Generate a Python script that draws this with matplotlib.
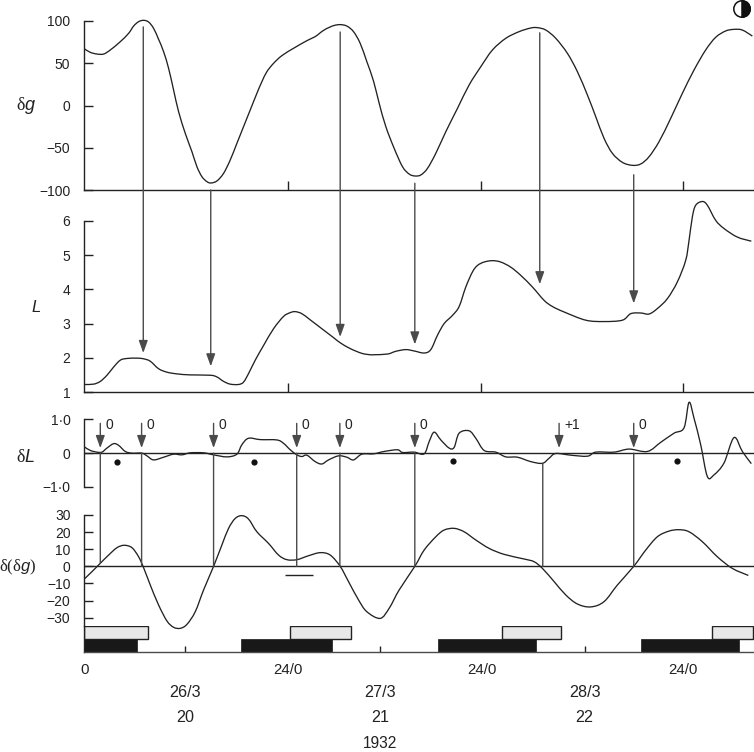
# -*- coding: utf-8 -*-
import matplotlib
matplotlib.use('Agg')
import matplotlib.pyplot as plt
from matplotlib.patches import ConnectionPatch, Wedge, Circle, PathPatch
from matplotlib.path import Path

plt.rcParams['font.family'] = 'Liberation Sans'
plt.rcParams['font.size'] = 10
plt.rcParams['mathtext.fontset'] = 'custom'
plt.rcParams['mathtext.rm'] = 'Liberation Serif'
plt.rcParams['mathtext.it'] = 'Liberation Sans:italic'

# Curves, x in hours from the start of the record
dg_x = [0.04, 0.72, 1.52, 2.32, 3.12, 4.32, 5.32, 5.92, 6.52, 7.12, 7.72, 8.32, 8.92, 9.52, 10.12,
        10.72, 11.32, 12.12, 12.92, 13.52, 14.12, 14.72, 15.2, 15.92, 16.72, 17.52, 18.32, 19.12,
        19.92, 20.72, 21.32, 21.92, 22.72, 23.72, 25.12, 26.72, 27.72, 28.24, 28.92, 29.92, 30.72,
        31.52, 32.32, 33.12, 33.92, 34.72, 35.4, 36.2, 37.2, 38.2, 39, 39.68, 40.4, 41.2, 42.2,
        43.4, 44.8, 46.2, 47.6, 49, 50.6, 52.2, 53.6, 54.4, 55.4, 56.6, 58, 59.2, 60.4, 61.4, 62.4,
        63.4, 64.6, 65.8, 66.8, 67.8, 69, 70.4, 71.8, 73.2, 74.6, 75.8, 77, 78, 79, 80.2]
dg_y = [66.9, 62.9, 60.9, 60.9, 65.7, 75.5, 85.4, 94, 99.2, 100.8, 98.8, 91.3, 78.3, 63.7, 44,
        18.3, -7.3, -32.9, -54.6, -72.4, -84.2, -90.1, -91.7, -89.3, -80.3, -64.5, -44.8, -25,
        -5.3, 14.4, 28.2, 40, 49.9, 59, 67.7, 76.7, 81.5, 85.4, 90.1, 94.5, 95.7,
        94, 87.4, 73.6, 51.9, 29, 2.6, -25, -50.7, -72.4, -81.1, -83.4, -82.2, -74.4, -56.6,
        -31, -3.4, 24.3, 45.9, 65.7, 79.5, 87.4, 91.7, 92.1, 89.3, 79.5, 61.7, 40, 12.4, -13.2, -38.9,
        -56.6, -67.3, -70.8, -69.2, -60.6, -42.8, -15.2, 14.4, 42, 65.7, 80.7, 88.2, 90.1, 89.3, 82.2]

L_x = [0.04, 1.12, 1.92, 2.72, 3.52, 4.32, 5.12, 6.32, 7.12, 7.92, 8.92, 9.92, 11.12, 12.72, 15.12,
       15.92, 16.72, 17.52, 18.52, 19.12, 19.72, 20.52, 21.52, 22.72, 23.92, 24.72, 25.32, 26.12,
       27.12, 28.52, 29.92, 30.72, 31.92, 33.32, 34.32, 34.8, 36.4, 37.4, 38.6, 39.6, 40.8, 41.6,
       42.4, 43.2, 44.2, 45, 45.8, 46.6, 47.2, 48, 49, 50, 51.2, 52.4, 53.8, 55.2, 56.2, 57.6, 60.2,
       62.4, 64.6, 65.6, 66.8, 67.8, 68.8, 70, 71.2, 72.2, 72.6, 73, 73.4, 74.2, 74.8, 75.8, 76.8,
       78.4, 80.08]
L_y = [1.22, 1.23, 1.31, 1.49, 1.73, 1.93, 1.98, 1.99, 1.97, 1.90, 1.68, 1.58, 1.53, 1.50, 1.49,
       1.44, 1.31, 1.23, 1.22, 1.29, 1.54, 1.93, 2.36, 2.85, 3.21, 3.32, 3.35, 3.29,
       3.11, 2.85, 2.59, 2.44, 2.27, 2.13, 2.09, 2.09, 2.11, 2.19, 2.24, 2.20, 2.14, 2.24,
       2.66, 3.0, 3.24, 3.50, 4.07, 4.51, 4.70, 4.80, 4.84, 4.80, 4.65, 4.41, 4.07, 3.68, 3.50, 3.34, 3.10,
       3.06, 3.10, 3.29, 3.31, 3.28, 3.44, 3.73, 4.22, 4.85, 5.43, 6.12, 6.46, 6.57, 6.46, 6.02, 5.78,
       5.53, 5.41]

dL_x = [0.04, 0.72, 1.52, 2.12, 2.72, 3.52, 4.12, 4.92, 5.72, 6.92, 7.52, 8.32, 9.52, 10.72, 11.72,
        12.72, 14.32, 15.52, 17.12, 18.32, 18.92, 19.72, 21.12, 23.12, 23.92, 24.72, 25.52, 26.12,
        26.72, 27.72, 28.52, 29.32, 30.52, 31.52, 32.32, 33.32, 34.72, 36, 37.6, 38.2, 39.6, 40.8,
        41.4, 42, 42.8, 43.8, 44.4, 45, 46.2, 47, 48, 49.4, 50.6, 52, 53.6, 55, 55.8, 56.6, 58.4,
        60.4, 61.4, 63.6, 65.4, 67.6, 69.2, 70.8, 72, 72.6, 73.2, 74, 74.8, 75.6, 76.8, 78, 79, 80.08]
dL_y = [0.18, 0.08, 0.03, 0.03, 0.15, 0.28, 0.23, 0.05, 0, 0, -0.08, -0.20, -0.12, -0.03, -0.05,
        0.01, 0.01, -0.05, -0.11, -0.03, 0.25, 0.44, 0.40, 0.39, 0.29, 0.10, -0.05, -0.10,
        -0.06, -0.25, -0.32, -0.20, -0.08, -0.12, -0.20, -0.03, -0.02, 0.05, 0.10, 0.02, 0.03, -0.02,
        0.34, 0.62, 0.39, 0.15, 0.17, 0.59, 0.66, 0.44, 0.08, 0.03, -0.11, -0.12, -0.25, -0.30, -0.15, -0.01, -0.06,
        -0.09, 0.03, 0.03, 0.12, 0.05, 0.32, 0.59, 0.75, 1.50, 1.03, 0.25, -0.69, -0.64, -0.29, 0.46, 0.05, -0.31]

ddg_x = [0.04, 0.92, 1.92, 2.92, 3.92, 4.8, 5.72, 6.52, 7.12, 7.92, 8.92, 9.92, 10.72, 11.52, 12.32,
         13.32, 14.32, 15.52, 16.52, 17.32, 18.12, 18.92, 19.72, 20.72, 22.12, 23.32, 24.32, 25.52,
         26.92, 28.32, 29.52, 30.72, 31.72, 32.92, 33.92, 35.52, 36.6, 37.8, 39.68, 40.8, 42.2, 43.2,
         44.4, 45.6, 47, 48.6, 50.4, 52.8, 54, 55, 56.4, 57.8, 59.2, 60.8, 62.4, 64, 65.96, 67.4,
         68.8, 70.2, 71.4, 72.6, 74.2, 76, 77.8, 79.72]
ddg_y = [-7.2, -3.1, 1.8, 6.6, 10.9, 12.3, 10.9, 5.6, -0.8, -10.9, -22.6, -31.9, -35.6, -36.2, -33.9,
         -26.5, -13.8, 0, 12.5, 22.2, 28, 29.6, 27.6, 20.2, 13.4, 6.6, 3.9, 3.9,
         6.2, 8, 6.6, 0, -8.9, -19.6, -26.5, -30.4, -24.5, -13.8, 0, 9.5, 17.3, 21.2,
         22.2, 20.2, 15.4, 10.5, 7, 4.3, 2.7, -1.2, -8.9, -16.7, -22, -23.7, -20.6, -10.9, 0, 9.5,
         17.3, 20.6, 21.4, 20.2, 14.4, 5.6, -1.2, -5.3]

# Long arrows from the dg panel down to the L panel
arrow_x = [7.08, 15.18, 30.72, 39.68, 54.68, 65.96]
arrow_dg = [93, -100, 87, -92, 86, -82]
arrow_L = [2.14, 1.75, 2.61, 2.39, 4.15, 3.59]

# Short arrows in the dL panel and the lines going down to d(dg)
small_x = [1.92, 6.88, 15.52, 25.5, 30.68, 39.68, 57.0, 65.96]
small_labels = ['0', '0', '0', '0', '0', '0', '+1', '0']
link_x = [1.92, 6.88, 15.52, 25.5, 30.68, 39.68, 55.04, 65.96]
link_dL = [0.02, 0, 0, 0, 0, 0, -0.30, 0]
link_ddg = [1.8, 0, 0, 0, 0, 0, 0, 0]

dot_x = [3.96, 20.4, 44.28, 71.1]
dot_y = [-0.26, -0.26, -0.22, -0.22]

# Day and night bars
black_start = [0, 18.84, 42.48, 66.84]
black_end = [6.36, 29.7, 54.24, 78.6]
light_start = [0, 24.72, 50.16, 75.36]
light_end = [7.62, 31.98, 57.24, 80.22]

panel_ticks = [24.5, 47.6, 71.9]
bottom_ticks = [12.1, 35.5, 60.06]
midnight_labels = ['0', '24/0', '24/0', '24/0']
midnight_x = [0, 24.4, 47.7, 71.9]
date_labels = ['26/3', '27/3', '28/3']
rotation_labels = ['20', '21', '22']

W, H = 754, 752
LEFT = 84.3
ink = '#222222'
grey = '#4a4a4a'

fig = plt.figure(figsize=(W / 100, H / 100), dpi=100)


def panel(top, bottom, ymax, ymin):
    ax = fig.add_axes([LEFT / W, 1 - bottom / H, (W - LEFT) / W, (bottom - top) / H])
    ax.set_xlim(0, 80.4)
    ax.set_ylim(ymin, ymax)
    ax.patch.set_alpha(0)
    for s in ['top', 'right']:
        ax.spines[s].set_visible(False)
    for s in ['left', 'bottom']:
        ax.spines[s].set_linewidth(1.0)
        ax.spines[s].set_color(ink)
    ax.tick_params(axis='y', direction='in', length=6.5, width=1.0, pad=10, color=ink, labelcolor=ink)
    ax.tick_params(axis='x', direction='in', length=6.5, width=1.0, labelbottom=False, color=ink)
    ax.set_xticks([])
    return ax


def draw_curve(ax, xs, ys):
    # stroke through the read points with bezier joins, so the trace is not angular
    verts = [(xs[0], ys[0])]
    codes = [Path.MOVETO]
    n = len(xs)
    for i in range(n - 1):
        a = max(i - 1, 0)
        d = min(i + 2, n - 1)
        k = 1 / 6
        verts.append((xs[i] + (xs[i + 1] - xs[a]) * k, ys[i] + (ys[i + 1] - ys[a]) * k))
        verts.append((xs[i + 1] - (xs[d] - xs[i]) * k, ys[i + 1] - (ys[d] - ys[i]) * k))
        verts.append((xs[i + 1], ys[i + 1]))
        codes += [Path.CURVE4, Path.CURVE4, Path.CURVE4]
    ax.add_patch(PathPatch(Path(verts, codes), fill=False, edgecolor=ink, lw=0.95, clip_on=False))


# dg panel
ax_g = panel(21, 190, 100, -100)
draw_curve(ax_g, dg_x, dg_y)
ax_g.set_yticks([100, 50, 0, -50, -100])
ax_g.set_yticklabels(['100', '50', '0', '\u221250', '\u2212100'])
ax_g.set_xticks(panel_ticks)

# L panel
ax_L = panel(221, 392, 6, 1)
draw_curve(ax_L, L_x, L_y)
ax_L.set_yticks([6, 5, 4, 3, 2, 1])
ax_L.set_xticks(panel_ticks)

# dL panel
ax_dL = panel(419.3, 487, 1, -1)
ax_dL.spines['bottom'].set_visible(False)
draw_curve(ax_dL, dL_x, dL_y)
ax_dL.axhline(0, color=ink, lw=1.0)
ax_dL.set_yticks([1, 0, -1])
ax_dL.set_yticklabels(['1\u00b70', '0', '\u22121\u00b70'])
ax_dL.scatter(dot_x, dot_y, s=20, color='#111111', linewidths=0, zorder=3)
for x, label in zip(small_x, small_labels):
    ax_dL.annotate('', xy=(x, 0.15), xytext=(x, 0.88),
                   arrowprops=dict(arrowstyle='-|>,head_length=0.75,head_width=0.27', mutation_scale=10,
                                   color=grey, lw=1.0, shrinkA=0, shrinkB=0))
    ax_dL.text(x + 0.6, 0.83, label, va='center', ha='left', color=ink)

# d(dg) panel
ax_dd = panel(515, 626, 30, -34.85)
ax_dd.spines['bottom'].set_visible(False)
draw_curve(ax_dd, ddg_x, ddg_y)
ax_dd.axhline(0, color=ink, lw=1.0)
ax_dd.set_yticks([30, 20, 10, 0, -10, -20, -30])
ax_dd.set_yticklabels(['30', '20', '10', '0', '\u221210', '\u221220', '\u221230'])
ax_dd.hlines(-5, 24.1, 27.4, color=ink, lw=1.0)

# Bars along the bottom
ax_b = panel(626, 652, 2, 0)
ax_b.set_yticks([])
ax_b.barh([0.5] * 4, [e - s for s, e in zip(black_start, black_end)], left=black_start, height=1,
          color='#181818', edgecolor='#181818', linewidth=0.5, zorder=2)
ax_b.barh([1.5] * 4, [e - s for s, e in zip(light_start, light_end)], left=light_start, height=1,
          color='#e8e8e8', edgecolor=ink, linewidth=1.0, zorder=2)
ax_b.set_xticks(bottom_ticks)
ax_b.tick_params(axis='x', direction='in', length=4, width=1.0)
ax_b.spines['bottom'].set_color(grey)

# Arrows that cross the panels
for x, g, l in zip(arrow_x, arrow_dg, arrow_L):
    fig.add_artist(ConnectionPatch(xyA=(x, g), coordsA=ax_g.transData, xyB=(x, l), coordsB=ax_L.transData,
                                   arrowstyle='-|>,head_length=0.75,head_width=0.27', mutation_scale=10,
                                   color=grey, lw=1.0, shrinkA=0, shrinkB=0))
for x, a, b in zip(link_x, link_dL, link_ddg):
    fig.add_artist(ConnectionPatch(xyA=(x, a), coordsA=ax_dL.transData, xyB=(x, b), coordsB=ax_dd.transData,
                                   arrowstyle='-', color=grey, lw=1.0))

# Panel labels
for (px, py, label, size) in [(26, 106, r'$\mathrm{\delta}\mathit{g}$', 13), (36, 307, r'$\mathit{L}$', 12),
                              (25.5, 457, r'$\mathrm{\delta}\mathit{L}$', 13),
                              (18, 567, r'$\mathrm{\delta}(\mathrm{\delta}\mathit{g})$', 12)]:
    fig.text(px / W, 1 - py / H, label, ha='center', va='center', fontsize=size, color=ink)

# Time labels under the axis
xy_px = ('data', 'figure pixels')
for x, label in zip(midnight_x, midnight_labels):
    ax_b.annotate(label, xy=(x, H - 670), xycoords=xy_px, ha='center', va='center', fontsize=10.8, color=ink,
                  annotation_clip=False)
for x, d, r in zip(bottom_ticks, date_labels, rotation_labels):
    ax_b.annotate(d, xy=(x, H - 692.7), xycoords=xy_px, ha='center', va='center', fontsize=11.6, color=ink,
                  annotation_clip=False)
    ax_b.annotate(r, xy=(x, H - 717.7), xycoords=xy_px, ha='center', va='center', fontsize=11.6, color=ink,
                  annotation_clip=False)
ax_b.annotate('1932', xy=(bottom_ticks[1], H - 744), xycoords=xy_px, ha='center', va='center', fontsize=11.2,
              color=ink, annotation_clip=False)

# Moon phase symbol, top right corner
ax_m = fig.add_axes([731 / W, 1 - 20 / H, 22 / W, 22 / H])
ax_m.set_xlim(-11, 11)
ax_m.set_ylim(-11, 11)
ax_m.axis('off')
ax_m.add_patch(Circle((0, 0), 8.2, facecolor='white', edgecolor='#111111', lw=1.1))
ax_m.add_patch(Wedge((0, 0), 8.2, -90, 90, facecolor='#111111', edgecolor='#111111', lw=1.1))

fig.savefig('out.png', dpi=100)
